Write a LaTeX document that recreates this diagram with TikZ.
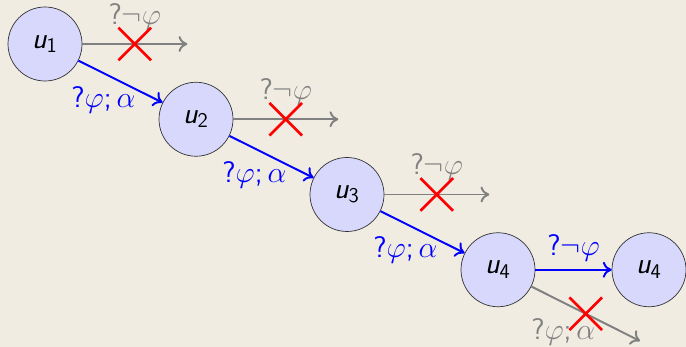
\documentclass[tikz,border=0pt]{standalone}
\usepackage{fix-cm}
\usepackage{amsmath}
\usepackage{fontspec}
\usetikzlibrary{positioning,shapes.misc,arrows.meta}
\definecolor{fond}{RGB}{240,236,225}
\definecolor{etatfill}{RGB}{216,216,252}
\newcommand{\etat}[1]{$\textsf{\itshape u}_{\textsf{#1}}$}
\newcommand{\testok}{$\textsf{?}\varphi\mathpunct{\textsf{;}}\alpha$}
\newcommand{\testneg}{$\textsf{?}\neg\varphi$}

\begin{document}
\begin{tikzpicture}[>={To[length=5pt,width=9pt]},
    every node/.style={font=\fontsize{17}{20}\selectfont},
    etatnode/.style={circle, draw=black!80, fill=etatfill, minimum size=1.48cm, inner sep=0pt},
    pas/.style={->, line width=1.1pt, blue},
    bloque/.style={->, line width=1.1pt, gray},
    croix/.style={cross out, draw=red, line width=1.5pt, minimum size=0.6cm, inner sep=0pt}]
  \def\dx{3.02}\def\dy{1.505}

  % fond
  \fill[fond] (0,0) rectangle (13.72,-6.94);
  \useasboundingbox (0,0) rectangle (13.72,-6.94);

  % etats
  \node[etatnode] (u1) at (0.9,-0.88) {\etat{1}};
  \node[etatnode] (u2) at (0.9+\dx,-0.88-\dy) {\etat{2}};
  \node[etatnode] (u3) at (0.9+2*\dx,-0.88-2*\dy) {\etat{3}};
  \node[etatnode] (u4) at (0.9+3*\dx,-0.88-3*\dy) {\etat{4}};
  \node[etatnode] (u5) at (12.98,-0.88-3*\dy) {\etat{4}};

  % transitions franchies
  \foreach \a/\b in {u1/u2,u2/u3,u3/u4}
    \draw[pas] (\a) -- (\b) node[midway, below left, inner sep=2pt, xshift=11pt, blue] {\testok};
  \draw[pas] (u4) -- (u5) node[midway, above=1pt, blue] {\testneg};

  % transitions bloquees
  \foreach \a in {u1,u2,u3} {
    \coordinate[right=2.1cm of \a] (g\a);
    \draw[bloque] (\a) -- (g\a) node[midway, above=7pt, inner sep=0.5pt, gray] {\testneg}
      node[midway, croix] (x\a) {};
  }
  \coordinate (gu4) at (12.8,-6.82);
  \draw[bloque] (u4) -- (gu4) node[midway, below left, inner sep=2pt, xshift=8pt, gray] {\testok}
    node[midway, croix] (xu4) {};
\end{tikzpicture}
\end{document}
